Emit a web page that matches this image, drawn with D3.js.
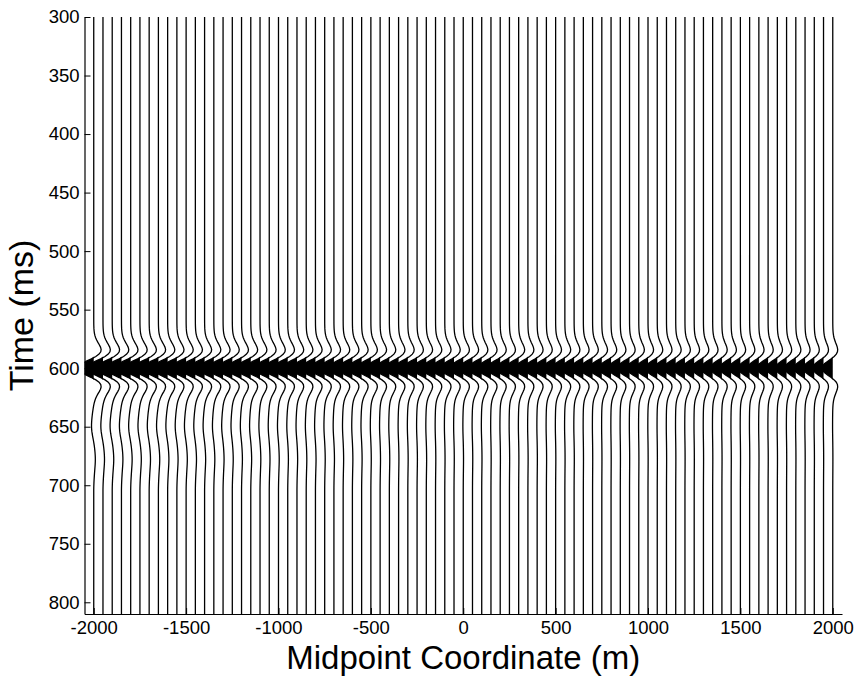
<!DOCTYPE html>
<html>
<head>
<meta charset="utf-8">
<script src="https://cdn.jsdelivr.net/npm/d3@7"></script>
<style>
  body { margin: 0; background: #fff; }
  svg { display: block; font-family: "Liberation Sans", Arial, sans-serif; }
</style>
</head>
<body>
<script>
// midpoint of each trace (m)
const midpoints = [
  -2000, -1950, -1900, -1850, -1800, -1750, -1700, -1650, -1600, -1550,
  -1500, -1450, -1400, -1350, -1300, -1250, -1200, -1150, -1100, -1050,
  -1000, -950, -900, -850, -800, -750, -700, -650, -600, -550,
  -500, -450, -400, -350, -300, -250, -200, -150, -100, -50,
  0, 50, 100, 150, 200, 250, 300, 350, 400, 450,
  500, 550, 600, 650, 700, 750, 800, 850, 900, 950,
  1000, 1050, 1100, 1150, 1200, 1250, 1300, 1350, 1400, 1450,
  1500, 1550, 1600, 1650, 1700, 1750, 1800, 1850, 1900, 1950, 2000
];
// peak amplitude of the 600 ms event, in trace spacings
const amplitudes = [
  1.80, 1.79, 1.79, 1.78, 1.77, 1.76, 1.76, 1.75, 1.74, 1.73,
  1.73, 1.72, 1.71, 1.70, 1.70, 1.69, 1.68, 1.67, 1.67, 1.66,
  1.65, 1.64, 1.64, 1.63, 1.62, 1.61, 1.61, 1.60, 1.59, 1.58,
  1.58, 1.57, 1.56, 1.55, 1.55, 1.54, 1.53, 1.52, 1.52, 1.51,
  1.50, 1.49, 1.49, 1.48, 1.47, 1.46, 1.46, 1.45, 1.44, 1.43,
  1.43, 1.42, 1.41, 1.40, 1.40, 1.39, 1.38, 1.37, 1.37, 1.36,
  1.35, 1.34, 1.34, 1.33, 1.32, 1.31, 1.31, 1.30, 1.29, 1.28,
  1.28, 1.27, 1.26, 1.25, 1.25, 1.24, 1.23, 1.22, 1.22, 1.21, 1.20
];
// amplitude of the weak later wiggle, in trace spacings
const codaAmps = [
  0.24, 0.23, 0.23, 0.22, 0.22, 0.21, 0.20, 0.20, 0.19, 0.18,
  0.18, 0.17, 0.16, 0.15, 0.15, 0.14, 0.13, 0.13, 0.12, 0.11,
  0.11, 0.10, 0.10, 0.09, 0.09, 0.08, 0.08, 0.07, 0.07, 0.07,
  0.06, 0.06, 0.06, 0.05, 0.05, 0.05, 0.05, 0.04, 0.04, 0.04,
  0.04, 0.04, 0.04, 0.03, 0.03, 0.03, 0.03, 0.03, 0.03, 0.03,
  0.03, 0.03, 0.03, 0.02, 0.02, 0.02, 0.02, 0.02, 0.02, 0.02,
  0.02, 0.02, 0.02, 0.02, 0.02, 0.02, 0.02, 0.02, 0.02, 0.02,
  0.02, 0.02, 0.02, 0.02, 0.02, 0.02, 0.02, 0.02, 0.02, 0.02, 0.02
];
// wavelet samples every 2 ms, lag -40 .. 40 ms around 600 ms
const wavelet = [
  -0.001, -0.002, -0.005, -0.011, -0.021, -0.039, -0.069, -0.113, -0.175, -0.251,
  -0.334, -0.406, -0.445, -0.423, -0.319, -0.126, 0.142, 0.445, 0.727, 0.928,
  1.000,
  0.928, 0.727, 0.445, 0.142, -0.126, -0.319, -0.423, -0.445, -0.406, -0.334,
  -0.251, -0.175, -0.113, -0.069, -0.039, -0.021, -0.011, -0.005, -0.002, -0.001
];
const waveletStart = 560;
// later wiggle samples every 2 ms from 626 ms
const coda = [
  0, 0.05, 0.12, 0.2, 0.3, 0.42, 0.55, 0.67, 0.78, 0.88,
  0.95, 1.0, 1.0, 0.95, 0.85, 0.7, 0.52, 0.32, 0.12, -0.06,
  -0.22, -0.36, -0.48, -0.58, -0.65, -0.7, -0.72, -0.7, -0.65, -0.58,
  -0.5, -0.42, -0.34, -0.27, -0.2, -0.14, -0.09, -0.05, -0.02, 0
];
const codaStart = 626;
const xTicks = [-2000, -1500, -1000, -500, 0, 500, 1000, 1500, 2000];
const yTicks = [300, 350, 400, 450, 500, 550, 600, 650, 700, 750, 800];

const W = 858, H = 677;
const mLeft = 84.5, mRight = 842, mTop = 17, mBottom = 614;
const font = "Liberation Sans, Arial, sans-serif";

const svg = d3.select("body").append("svg")
  .attr("width", W)
  .attr("height", H);

const x = d3.scaleLinear().domain([-2050, 2050]).range([mLeft, mRight]);
const y = d3.scaleLinear().domain([300, 810]).range([mTop, mBottom]);
const spacing = x(50) - x(0);

const times = d3.range(300, 811, 2);

svg.append("clipPath").attr("id", "clip")
  .append("rect")
  .attr("x", mLeft).attr("y", mTop)
  .attr("width", mRight - mLeft).attr("height", mBottom - mTop);

const plot = svg.append("g").attr("clip-path", "url(#clip)");

const traces = midpoints.map((m, i) => times.map(t => {
  const wi = (t - waveletStart) / 2;
  const ci = (t - codaStart) / 2;
  const main = wi >= 0 && wi < wavelet.length ? amplitudes[i] * wavelet[wi] : 0;
  const late = ci >= 0 && ci < coda.length ? codaAmps[i] * coda[ci] : 0;
  return { t: t, main: main, v: main + late };
}));

const fill = (m) => d3.area()
  .y(d => y(d.t))
  .x0(x(m))
  .x1(d => x(m) - Math.max(0, d.main) * spacing);

const line = (m) => d3.line()
  .y(d => y(d.t))
  .x(d => x(m) - d.v * spacing);

const g = plot.selectAll("g.trace")
  .data(midpoints)
  .enter()
  .append("g")
  .attr("class", "trace");

g.append("path")
  .attr("d", (m, i) => fill(m)(traces[i].filter(d => Math.abs(d.t - 600) <= 10)))
  .attr("fill", "#000");

g.append("path")
  .attr("d", (m, i) => line(m)(traces[i]))
  .attr("fill", "none")
  .attr("stroke", "#000")
  .attr("stroke-width", 1.3);

// axes
const xAxis = d3.axisBottom(x)
  .tickValues(xTicks)
  .tickFormat(d => String(d))
  .tickSizeInner(-6)
  .tickSizeOuter(0)
  .tickPadding(7);
const yAxis = d3.axisLeft(y)
  .tickValues(yTicks)
  .tickFormat(d => String(d))
  .tickSizeInner(-6)
  .tickSizeOuter(0)
  .tickPadding(5);

svg.append("g")
  .attr("transform", `translate(0,${mBottom})`)
  .call(xAxis)
  .call(a => a.select(".domain").attr("stroke-width", 1.2))
  .call(a => a.selectAll("text").attr("font-size", 18.5).attr("fill", "#000").attr("font-family", font));

svg.append("g")
  .attr("transform", `translate(${mLeft},0)`)
  .call(yAxis)
  .call(a => a.select(".domain").attr("stroke-width", 1.2))
  .call(a => a.selectAll("text").attr("font-size", 18.5).attr("fill", "#000").attr("font-family", font));

svg.append("text")
  .attr("x", (mLeft + mRight) / 2)
  .attr("y", 669)
  .attr("text-anchor", "middle")
  .attr("font-family", font)
  .attr("font-size", 33)
  .text("Midpoint Coordinate (m)");

svg.append("text")
  .attr("transform", `translate(33,${(mTop + mBottom) / 2}) rotate(-90)`)
  .attr("text-anchor", "middle")
  .attr("font-family", font)
  .attr("font-size", 34)
  .text("Time (ms)");
</script>
</body>
</html>
